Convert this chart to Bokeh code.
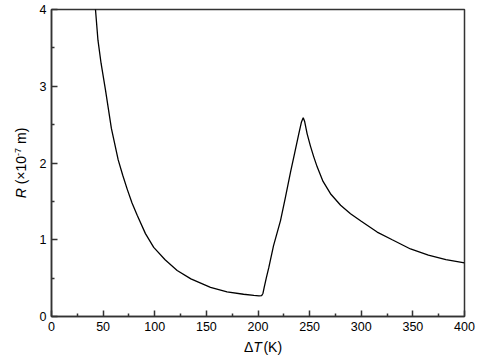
from bokeh.plotting import figure
from bokeh.models import Range1d, FixedTicker, Div
from bokeh.layouts import row, column
from bokeh.embed import file_html
from bokeh.resources import INLINE

# Data
delta_T = [41.5, 42.6, 45.0, 48.0, 52.3, 58.0, 64.6, 69.0, 73.3, 78.0, 83.0, 91.0,
           99.0, 110.0, 121.7, 135.0, 154.0, 170.0, 186.0, 196.0, 201.0, 203.5,
           204.8, 206.0, 208.0, 210.5, 215.0, 221.8, 226.5, 231.5, 235.5, 239.5,
           242.0, 243.8, 245.2, 247.6, 250.8, 254.0, 257.3, 263.0, 270.2, 280.0,
           289.6, 300.0, 315.4, 330.0, 347.7, 365.0, 382.0, 400.0]
radius = [4.15, 4.0, 3.6, 3.3, 2.95, 2.45, 2.04, 1.84, 1.66, 1.48, 1.32, 1.08,
          0.90, 0.74, 0.60, 0.49, 0.38, 0.32, 0.29, 0.275, 0.268, 0.272,
          0.30, 0.38, 0.50, 0.64, 0.92, 1.25, 1.55, 1.88, 2.13, 2.38,
          2.53, 2.59, 2.54, 2.38, 2.22, 2.08, 1.95, 1.76, 1.60, 1.45,
          1.34, 1.24, 1.10, 1.00, 0.88, 0.80, 0.74, 0.70]

x_ticks = [0, 50, 100, 150, 200, 250, 300, 350, 400]
y_ticks = [0, 1, 2, 3, 4]

FONT = "Liberation Sans"
AX = "#333333"

p = figure(width=448, height=338, output_backend="svg", toolbar_location=None,
           x_range=Range1d(0, 400), y_range=Range1d(0, 4),
           min_border_left=21, min_border_right=14, min_border_top=9,
           min_border_bottom=22)
p.background_fill_color = "white"
p.border_fill_color = "white"
p.grid.visible = False
p.outline_line_color = AX
p.outline_line_width = 1.5

p.line(delta_T, radius, line_color="black", line_width=1.3)

for ax, ticks in ((p.xaxis[0], x_ticks), (p.yaxis[0], y_ticks)):
    step = ticks[1] - ticks[0]
    ax.ticker = FixedTicker(ticks=ticks, minor_ticks=[t + step / 2 for t in ticks[:-1]])
    ax.axis_line_color = AX
    ax.axis_line_width = 1.5
    ax.major_tick_line_color = AX
    ax.major_tick_line_width = 1.5
    ax.minor_tick_line_color = AX
    ax.minor_tick_line_width = 1.5
    ax.major_tick_in = 6
    ax.major_tick_out = 0
    ax.minor_tick_in = 3
    ax.minor_tick_out = 0
    ax.major_label_text_font = FONT
    ax.major_label_text_font_size = "12.5px"
    ax.major_label_text_color = "black"
    ax.major_label_standoff = 5

font_css = "font-family:'Liberation Sans',Arial,sans-serif;font-size:14px;line-height:14px;color:#000;white-space:nowrap;"

ylabel_html = (
    '<div style="position:relative;width:30px;height:338px;">'
    '<div style="position:absolute;left:21px;top:163px;transform:translate(-50%,-50%) rotate(-90deg);' + font_css + '">'
    '<i>R</i> (×10<span style="font-size:9px;vertical-align:5px;line-height:0;">-7</span> m)'
    '</div></div>'
)
xlabel_html = (
    '<div style="position:relative;width:478px;height:20px;">'
    '<div style="position:absolute;left:244px;top:2px;' + font_css + '">'
    'Δ<i style="margin-right:1.5px;">T</i>(K)'
    '</div></div>'
)

ydiv = Div(text=ylabel_html, width=30, height=338, margin=0)
xdiv = Div(text=xlabel_html, width=478, height=20, margin=0)

layout = column(row(ydiv, p, spacing=0), xdiv, spacing=0)

open("out.html", "w").write(file_html(layout, INLINE))
